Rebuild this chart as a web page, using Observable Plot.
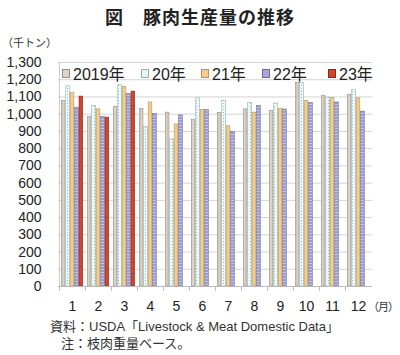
<!DOCTYPE html>
<html><head><meta charset="utf-8">
<script src="https://cdn.jsdelivr.net/npm/d3@7"></script>
<script src="https://cdn.jsdelivr.net/npm/@observablehq/plot@0.6"></script>
<style>
body{margin:0;background:#fff;font-family:"Liberation Sans","Noto Sans CJK JP",sans-serif;color:#222}
#wrap{position:relative;width:400px;height:355px;overflow:hidden}
.abs{position:absolute;white-space:nowrap}
#title{top:3px;left:0;width:400px;text-align:center;font-family:"Noto Sans CJK JP",sans-serif;font-size:18px;font-weight:bold;letter-spacing:1px;color:#222}
#unit{top:34px;left:2px;font-family:"Noto Sans CJK JP",sans-serif;font-size:11px;color:#333}
#month{top:298px;left:368px;font-family:"Noto Sans CJK JP",sans-serif;font-size:11px;letter-spacing:-1px;color:#333}
.cap{font-family:"Liberation Sans","Noto Sans CJK JP",sans-serif;font-size:13px;color:#333}
.leg{top:61px;font-size:16px;display:flex;align-items:center;color:#222}
.leg i{display:inline-block;width:6px;height:7px;margin-right:3px;border:1px solid #777}
</style></head>
<body><div id="wrap">
<div id="title" class="abs">図　豚肉生産量の推移</div>
<div id="unit" class="abs">（千トン）</div>
<div id="chart"></div>
<div id="legend"></div>
<div id="month" class="abs">（月）</div>
<div class="abs cap" style="top:316px;left:50px">資料：USDA「Livestock &amp; Meat Domestic Data」</div>
<div class="abs cap" style="top:333px;left:61px">注：枝肉重量ベース。</div>
</div>
<script>
const months = ["1","2","3","4","5","6","7","8","9","10","11","12"];
const years = ["2019年","20年","21年","22年","23年"];
const v2019 = [1078, 985, 1043, 1030, 1009, 968, 1007, 1028, 1018, 1182, 1105, 1112];
const v2020 = [1162, 1048, 1168, 925, 854, 1092, 1078, 1066, 1062, 1180, 1096, 1140];
const v2021 = [1125, 1028, 1159, 1068, 940, 1024, 930, 1009, 1030, 1078, 1093, 1092];
const v2022 = [1038, 985, 1116, 1002, 993, 1024, 898, 1047, 1027, 1064, 1068, 1015];
const v2023 = [1102, 980, 1131];
const yTicks = [0,100,200,300,400,500,600,700,800,900,1000,1100,1200,1300];

const series = [v2019, v2020, v2021, v2022, v2023];
const fills = ["url(#p19)", "url(#p20)", "#f2cd8c", "url(#p22)", "#d2452e"];
const strokes = ["#9a8f84", "#8fb3b3", "#b8955a", "#6a6a9e", "#8a2a1a"];
const legendColors = ["#dcd2c6", "#e6f4f4", "#f2cd8c", "#a6a6d2", "#d2452e"];

const W = 400, H = 355, mL = 58, mR = 28, mT = 62, mB = 69;
const bw = (W - mL - mR) / months.length;
const off = 2, barW = (bw - 2 * off) / years.length;

const marks = [
  Plot.gridY(yTicks, {stroke: "#d4d4d4", strokeOpacity: 1}),
  Plot.ruleX([months[0]], {dx: -bw / 2, stroke: "#c8c8c8"})
];
series.forEach((vals, i) => {
  const rows = vals.map((v, j) => ({month: months[j], value: v}));
  marks.push(Plot.barY(rows, {
    x: "month", y: "value",
    fill: fills[i], stroke: strokes[i], strokeWidth: 0.6,
    insetLeft: off + barW * i + 0.3,
    insetRight: bw - off - barW * (i + 1) + 0.3
  }));
});
marks.push(
  Plot.ruleY([0], {stroke: "#bdbdbd"}),
  Plot.axisX(months, {tickSize: 5, dx: -bw / 2, tickFormat: () => "", stroke: "#bdbdbd"}),
  Plot.axisX(months, {tickSize: 0, tickPadding: 15, fontSize: 14, fill: "#222"}),
  Plot.axisY(yTicks, {tickSize: 0, tickPadding: 17, fontSize: 14, fill: "#222", tickFormat: d3.format(",")})
);

const chart = Plot.plot({
  width: W, height: H,
  marginLeft: mL, marginRight: mR, marginTop: mT, marginBottom: mB,
  style: {fontFamily: '"Liberation Sans", "Noto Sans CJK JP", sans-serif', background: "transparent"},
  x: {domain: months, padding: 0, label: null},
  y: {domain: [0, 1300], label: null},
  marks
});

const svg = d3.select(chart);
const defs = svg.insert("defs", ":first-child");
const p19 = defs.append("pattern").attr("id", "p19").attr("patternUnits", "userSpaceOnUse").attr("width", 3).attr("height", 3);
p19.append("rect").attr("width", 3).attr("height", 3).attr("fill", "#dcd2c6");
p19.append("rect").attr("x", 2).attr("width", 1).attr("height", 3).attr("fill", "#cfc4b7");
const p20 = defs.append("pattern").attr("id", "p20").attr("patternUnits", "userSpaceOnUse").attr("width", 3).attr("height", 3);
p20.append("rect").attr("width", 3).attr("height", 3).attr("fill", "#eef8f8");
p20.append("rect").attr("x", 1).attr("y", 1).attr("width", 1).attr("height", 1).attr("fill", "#8fc0c0");
const p22 = defs.append("pattern").attr("id", "p22").attr("patternUnits", "userSpaceOnUse").attr("width", 3).attr("height", 3);
p22.append("rect").attr("width", 3).attr("height", 3).attr("fill", "#9c9cce");
p22.append("rect").attr("y", 2).attr("width", 3).attr("height", 1).attr("fill", "#c4c4e4");

chart.style.position = "absolute";
chart.style.left = "0px";
chart.style.top = "0px";
document.getElementById("chart").appendChild(chart);

const legendLeft = [62, 141, 201, 262, 328];
const leg = document.getElementById("legend");
years.forEach((y, i) => {
  const d = document.createElement("div");
  d.className = "abs leg";
  d.style.left = legendLeft[i] + "px";
  d.innerHTML = `<i style="background:${legendColors[i]};border-color:${strokes[i]}"></i><span>${y}</span>`;
  leg.appendChild(d);
});
</script>
</body></html>
